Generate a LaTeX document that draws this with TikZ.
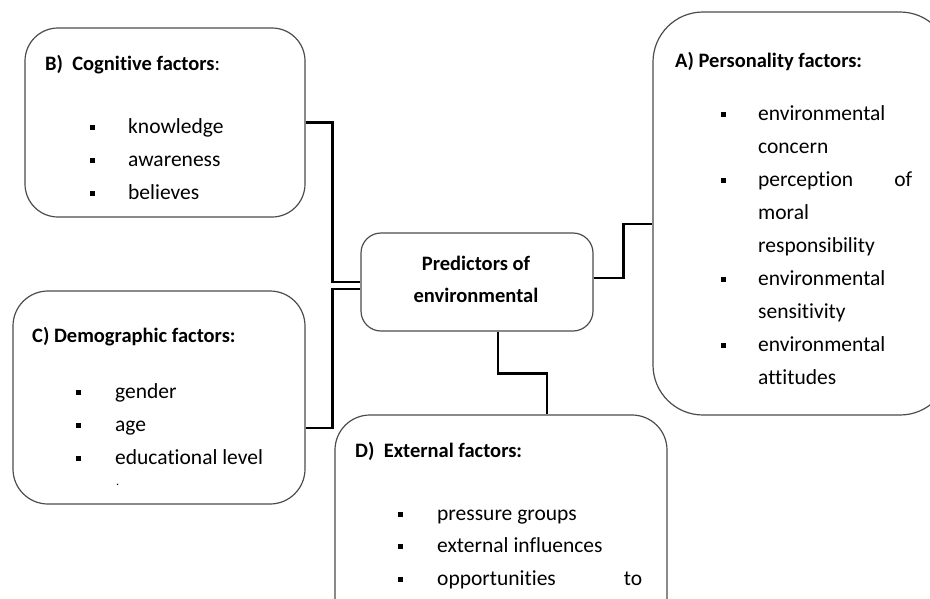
\documentclass[tikz,border=0pt]{standalone}
\usepackage{fontspec}
\setmainfont{Carlito}[Ligatures=NoCommon]

\begin{document}
\begin{tikzpicture}[x=1pt, y=-1pt,
  factor/.style={draw=black!70, line width=1.2pt, rectangle, inner sep=0pt},
  link/.style={line width=2.8pt},
  head/.style={anchor=base west, inner sep=0pt, font=\fontsize{20.5}{24}\selectfont\bfseries},
  item/.style={anchor=base west, inner sep=0pt, font=\fontsize{21.5}{24}\selectfont},
  bulletsq/.style={fill=black, inner sep=0pt, minimum size=5pt}]
\useasboundingbox (0,0) rectangle (930,598);

% the five boxes
\node[factor, rounded corners=33pt, minimum width=280pt, minimum height=189pt] (cog) at (165,122.5) {};
\node[factor, rounded corners=35pt, minimum width=292pt, minimum height=213pt] (dem) at (159,397.5) {};
\node[factor, rounded corners=20pt, minimum width=232pt, minimum height=98pt] (pred) at (477,282) {};
\node[factor, rounded corners=50pt, minimum width=297pt, minimum height=403pt] (pers) at (801.5,213.5) {};
\node[factor, rounded corners=35pt, minimum width=332pt, minimum height=225pt] (ext) at (501,527.5) {};

% connectors
\draw[link] (cog.east) -- ++(27,0) |- (pred.west);
\draw[link] ([yshift=-30.5pt]dem.east) -- ++(27,0) |- ([yshift=-7pt]pred.west);
\draw[link] ([yshift=4pt]pred.east) -- ++(30,0) |- ([yshift=-10.5pt]pers.west);
\draw[link] ([xshift=21pt]pred.south) -- ++(0,42) -| ([xshift=46pt]ext.north);

% centre
\node[anchor=base, inner sep=0pt, font=\fontsize{20.5}{24}\selectfont\bfseries] (predA) at (476,270) {Predictors of};
\node[anchor=base, inner sep=0pt, font=\fontsize{20.5}{24}\selectfont\bfseries] (predB) at (476,302) {environmental};

% B) cognitive
\node[head] (cogT) at (45,70) {B)\ \ Cognitive factors\mdseries:};
\node[bulletsq] (cogB1) at (92,127) {};
\node[bulletsq] (cogB2) at (92,160) {};
\node[bulletsq] (cogB3) at (92,193) {};
\node[item] (cogI1) at (128,133) {knowledge};
\node[item] (cogI2) at (128,166) {awareness};
\node[item] (cogI3) at (128,199) {believes};

% C) demographic
\node[head] (demT) at (32,342) {C) Demographic factors:};
\node[bulletsq] (demB1) at (78,392) {};
\node[bulletsq] (demB2) at (78,425) {};
\node[bulletsq] (demB3) at (78,458) {};
\node[item] (demI1) at (115,398) {gender};
\node[item] (demI2) at (115,431) {age};
\node[item] (demI3) at (115,464) {educational level};
\node[item, font=\fontsize{12}{14}\selectfont] (demI4) at (116,485) {.};

% A) personality
\node[head] (persT) at (675,67) {A) Personality factors:};
\node[bulletsq] (persB1) at (723,114) {};
\node[bulletsq] (persB2) at (723,180) {};
\node[bulletsq] (persB3) at (723,279) {};
\node[bulletsq] (persB4) at (723,345) {};
\node[item] (persI1) at (758,120) {environmental};
\node[item] (persI2) at (758,153) {concern};
\node[item] (persI3) at (758,186) {\makebox[154pt][s]{perception of}};
\node[item] (persI4) at (758,219) {moral};
\node[item] (persI5) at (758,252) {responsibility};
\node[item] (persI6) at (758,285) {environmental};
\node[item] (persI7) at (758,318) {sensitivity};
\node[item] (persI8) at (758,351) {environmental};
\node[item] (persI9) at (758,384) {attitudes};

% D) external
\node[head] (extT) at (355,457) {D)\ \ External factors:};
\node[bulletsq] (extB1) at (400,514) {};
\node[bulletsq] (extB2) at (400,546) {};
\node[bulletsq] (extB3) at (400,579) {};
\node[item] (extI1) at (437,520) {pressure groups};
\node[item] (extI2) at (437,552) {external influences};
\node[item] (extI3) at (437,585) {\makebox[205pt][s]{opportunities to}};
\end{tikzpicture}
\end{document}
